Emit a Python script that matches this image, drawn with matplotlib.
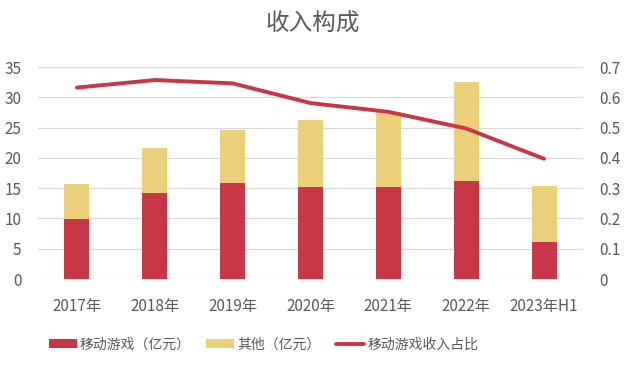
import numpy as np
import matplotlib
matplotlib.use('Agg')
from matplotlib import pyplot as plt

plt.rcParams['font.family'] = ['Noto Sans CJK SC', 'DejaVu Sans']

# 数据
years = ['2017年', '2018年', '2019年', '2020年', '2021年', '2022年', '2023年H1']
mobile = [9.9, 14.2, 15.85, 15.2, 15.2, 16.2, 6.1]
total = [15.7, 21.6, 24.6, 26.25, 27.6, 32.5, 15.35]
other = [t - m for t, m in zip(total, mobile)]
ratio = [0.632, 0.657, 0.646, 0.581, 0.552, 0.497, 0.397]

red = '#C83746'
yellow = '#EBCF7A'
grey = '#595959'

fig = plt.figure(figsize=(6.25, 3.66), dpi=100)
ax = fig.add_axes([0.0608, 0.2377, 0.872, 0.5792])
x = np.arange(len(years))
w = 0.32
b1 = ax.bar(x, mobile, w, color=red, label='移动游戏（亿元）', zorder=2)
b2 = ax.bar(x, other, w, bottom=mobile, color=yellow, label='其他（亿元）', zorder=2)
ax.set_ylim(0, 35)
ax.set_yticks(range(0, 36, 5))
ax.set_xlim(-0.5, len(years) - 0.5)
ax.set_xticks(x)
ax.set_xticklabels(years)
ax.grid(axis='y', color='#D9D9D9', linewidth=0.9, zorder=0)
for s in ax.spines.values():
    s.set_visible(False)
ax.tick_params(length=0, colors=grey, labelsize=11)
ax.tick_params(axis='x', pad=14)
ax.tick_params(axis='y', pad=12)

ax2 = ax.twinx()
l1, = ax2.plot(x, ratio, color=red, linewidth=2.8, label='移动游戏收入占比',
               solid_capstyle='round', zorder=3)
ax2.set_ylim(0, 0.7)
ax2.set_yticks(np.arange(0, 0.71, 0.1))
ax2.set_yticklabels(['0', '0.1', '0.2', '0.3', '0.4', '0.5', '0.6', '0.7'])
for s in ax2.spines.values():
    s.set_visible(False)
ax2.tick_params(length=0, colors=grey, labelsize=11, pad=12)

fig.suptitle('收入构成', y=0.965, fontsize=17, color=grey)
fig.legend(handles=[b1, b2, l1], loc='lower left', bbox_to_anchor=(0.078, 0.04),
           ncol=3, frameon=False, fontsize=10, labelcolor=grey,
           borderpad=0, borderaxespad=0,
           handlelength=2.0, handleheight=0.6, columnspacing=1.1, handletextpad=0.25)

fig.savefig('out.png', dpi=100)
